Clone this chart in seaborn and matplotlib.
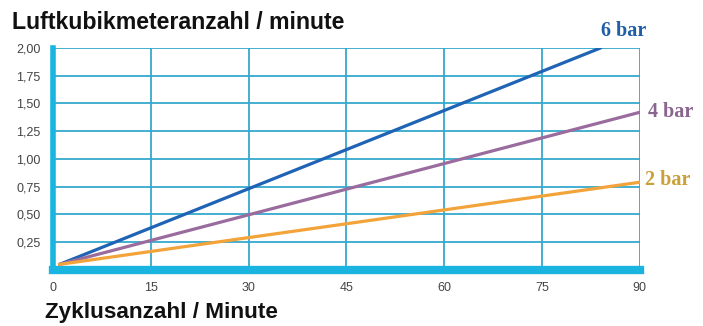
import matplotlib
matplotlib.use("Agg")
import matplotlib.pyplot as plt
import seaborn as sns
import pandas as pd

# values
zyklen_6bar = [1, 84]
luft_6bar = [0.05, 2.00]
zyklen_4bar = [1, 90]
luft_4bar = [0.05, 1.42]
zyklen_2bar = [1, 90]
luft_2bar = [0.05, 0.79]

x_ticks = [0, 15, 30, 45, 60, 75, 90]
y_ticks = [0.25, 0.50, 0.75, 1.00, 1.25, 1.50, 1.75, 2.00]
y_labels = ["0,25", "0,50", "0,75", "1,00", "1,25", "1,50", "1,75", "2,00"]

df = pd.concat([
    pd.DataFrame({"Zyklen": zyklen_6bar, "Luft": luft_6bar, "Druck": "6 bar"}),
    pd.DataFrame({"Zyklen": zyklen_4bar, "Luft": luft_4bar, "Druck": "4 bar"}),
    pd.DataFrame({"Zyklen": zyklen_2bar, "Luft": luft_2bar, "Druck": "2 bar"}),
])
palette = {"6 bar": "#1f63b5", "4 bar": "#9a6c9e", "2 bar": "#f2a43a"}
label_colors = {"6 bar": "#1f5fa8", "4 bar": "#8a6590", "2 bar": "#c9a03a"}

sns.set_style("white")
plt.rcParams["font.family"] = ["Liberation Sans", "DejaVu Sans"]

fig = plt.figure(figsize=(7.03, 3.26), dpi=100)
ax = fig.add_axes([0.0754, 0.172, 0.8346, 0.681])
grid_c = "#35a8cc"

sns.lineplot(data=df, x="Zyklen", y="Luft", hue="Druck", palette=palette,
             linewidth=2.3, legend=False, ax=ax, zorder=3)

ax.set_xlim(0, 90)
ax.set_ylim(0, 2.0)
ax.set_xticks(x_ticks)
ax.set_yticks(y_ticks)
ax.set_yticklabels(y_labels)
ax.grid(True, color=grid_c, linewidth=1.3)
for s in ["top", "right"]:
    ax.spines[s].set_visible(False)
ax.spines["left"].set_color("#1ab4e0")
ax.spines["left"].set_linewidth(4)
ax.spines["bottom"].set_color("#1ab4e0")
ax.spines["bottom"].set_linewidth(6)
ax.tick_params(length=0, labelsize=9, colors="#444444", pad=9)
ax.set_xlabel("")
ax.set_ylabel("")

ax.text(84, 2.15, "6 bar", color=label_colors["6 bar"], fontsize=14.5,
        fontweight="bold", family="Liberation Serif", ha="left", va="center",
        clip_on=False)
ax.text(91.2, 1.42, "4 bar", color=label_colors["4 bar"], fontsize=14.5,
        fontweight="bold", family="Liberation Serif", ha="left", va="center",
        clip_on=False)
ax.text(90.8, 0.81, "2 bar", color=label_colors["2 bar"], fontsize=14.5,
        fontweight="bold", family="Liberation Serif", ha="left", va="center",
        clip_on=False)

fig.text(0.017, 0.93, "Luftkubikmeteranzahl / minute", fontsize=16.7,
         fontweight="bold", color="#111111", ha="left", va="center")
fig.text(0.064, 0.04, "Zyklusanzahl / Minute", fontsize=16.2,
         fontweight="bold", color="#111111", ha="left", va="center")

fig.savefig("out.png", dpi=100)
